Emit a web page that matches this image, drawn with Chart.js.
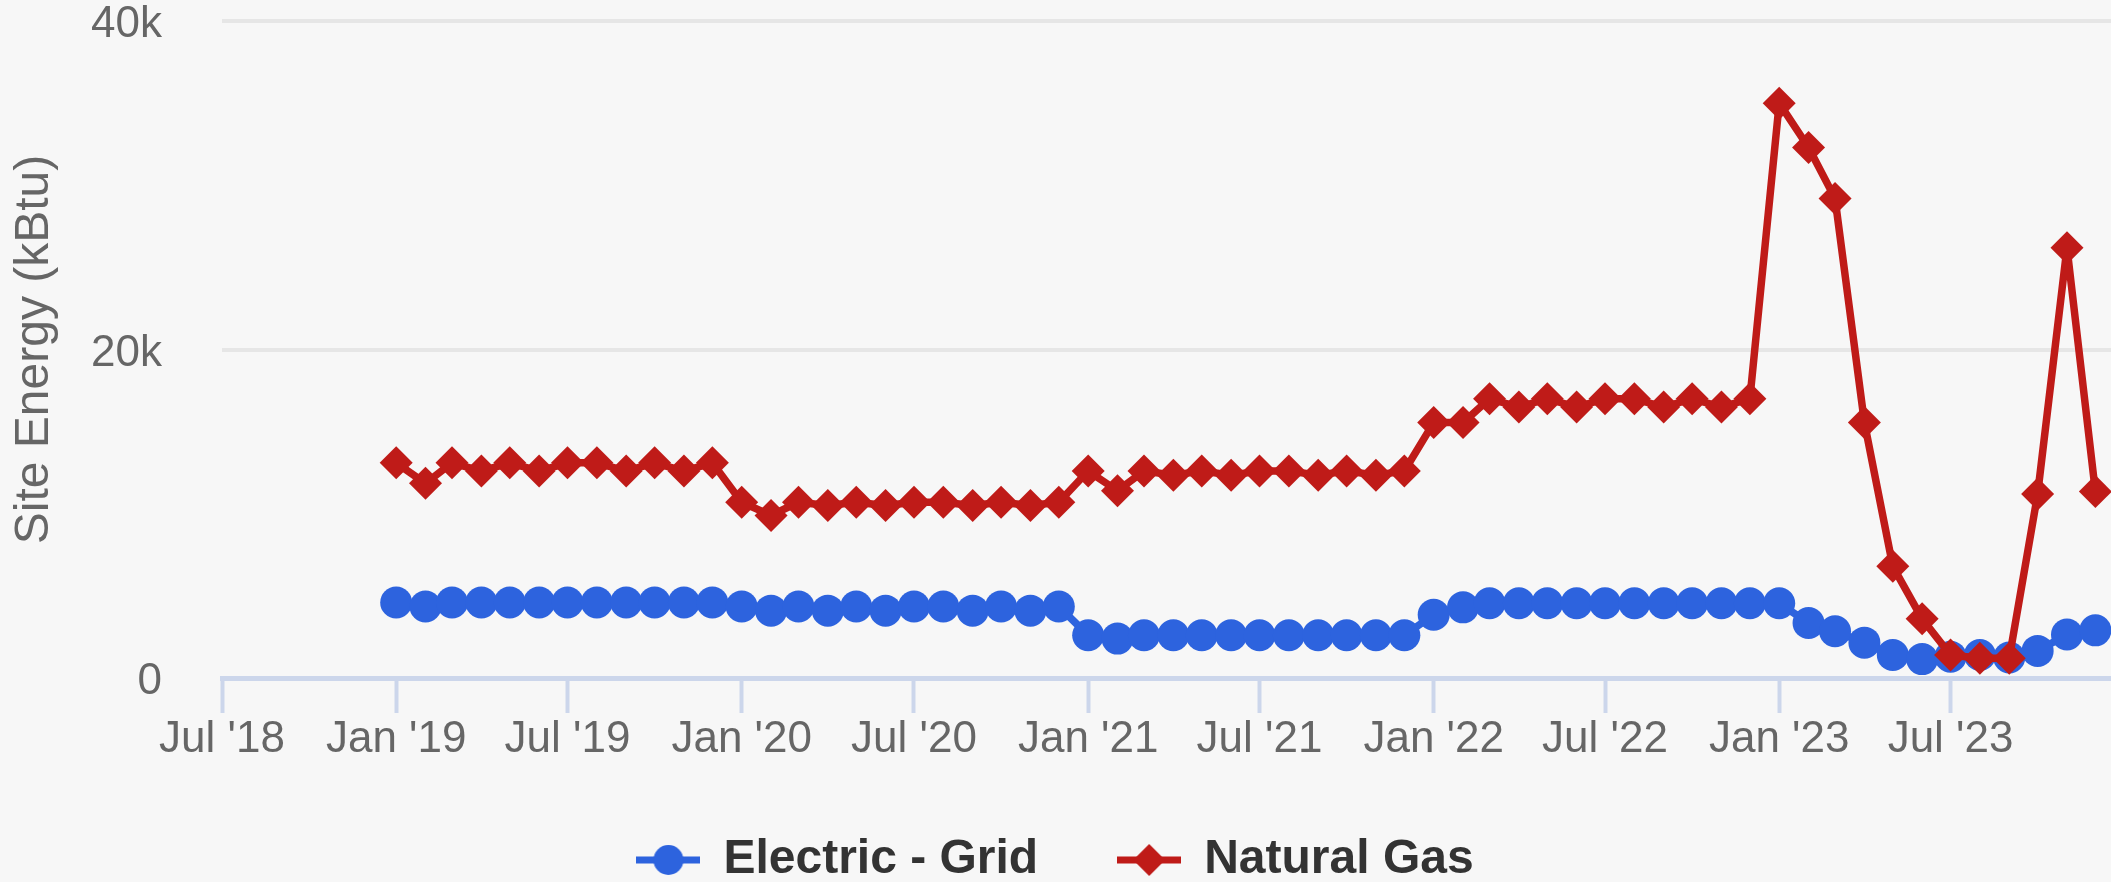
<!DOCTYPE html>
<html>
<head>
<meta charset="utf-8">
<title>Site Energy</title>
<script src="https://cdn.jsdelivr.net/npm/chart.js@4.4.1/dist/chart.umd.min.js"></script>
<style>
    html, body { margin: 0; padding: 0; background: #f7f7f7; overflow: hidden; }
    #wrap { position: relative; width: 2111px; height: 882px; }
</style>
</head>
<body>
<div id="wrap"><canvas id="energyChart"></canvas></div>
<script>
// monthly readings, Jan 2019 - Dec 2023
const months = [
    '2019-01', '2019-02', '2019-03', '2019-04', '2019-05', '2019-06', '2019-07', '2019-08', '2019-09', '2019-10', '2019-11', '2019-12',
    '2020-01', '2020-02', '2020-03', '2020-04', '2020-05', '2020-06', '2020-07', '2020-08', '2020-09', '2020-10', '2020-11', '2020-12',
    '2021-01', '2021-02', '2021-03', '2021-04', '2021-05', '2021-06', '2021-07', '2021-08', '2021-09', '2021-10', '2021-11', '2021-12',
    '2022-01', '2022-02', '2022-03', '2022-04', '2022-05', '2022-06', '2022-07', '2022-08', '2022-09', '2022-10', '2022-11', '2022-12',
    '2023-01', '2023-02', '2023-03', '2023-04', '2023-05', '2023-06', '2023-07', '2023-08', '2023-09', '2023-10', '2023-11', '2023-12'
];

const electricGrid = [
    4600, 4350, 4600, 4600, 4600, 4600, 4600, 4600, 4600, 4600, 4600, 4600,
    4350, 4100, 4350, 4100, 4350, 4100, 4350, 4350, 4100, 4350, 4100, 4350,
    2600, 2400, 2600, 2600, 2600, 2600, 2600, 2600, 2600, 2600, 2600, 2600,
    3850, 4300, 4550, 4550, 4550, 4550, 4550, 4550, 4550, 4550, 4550, 4550,
    4550, 3350, 2850, 2150, 1400, 1150, 1300, 1400, 1250, 1650, 2650, 2900
];

const naturalGas = [
    13100, 11850, 13100, 12600, 13100, 12600, 13100, 13100, 12600, 13100, 12600, 13100,
    10700, 9900, 10700, 10500, 10700, 10500, 10700, 10700, 10500, 10700, 10500, 10700,
    12600, 11400, 12600, 12350, 12600, 12350, 12600, 12600, 12350, 12600, 12350, 12600,
    15550, 15550, 17000, 16500, 17000, 16500, 17000, 17000, 16500, 17000, 16500, 17000,
    35000, 32300, 29200, 15550, 6800, 3600, 1400, 1200, 1200, 11200, 26200, 11350
];

// x axis ticks (every six months) and y axis ticks
const xTickMonths = ['2018-07', '2019-01', '2019-07', '2020-01', '2020-07', '2021-01', '2021-07', '2022-01', '2022-07', '2023-01', '2023-07'];
const yTicks = [0, 20000, 40000];

const BLUE = '#2d63de';
const RED = '#bf1b18';
const DAY = 86400000;
const MONTH_NAMES = ['Jan', 'Feb', 'Mar', 'Apr', 'May', 'Jun', 'Jul', 'Aug', 'Sep', 'Oct', 'Nov', 'Dec'];

function toTime(s) {
    return Date.UTC(+s.slice(0, 4), +s.slice(5, 7) - 1, 1);
}

function monthLabel(t) {
    const d = new Date(t);
    return MONTH_NAMES[d.getUTCMonth()] + " '" + String(d.getUTCFullYear()).slice(2);
}

// legend symbol: short line with the marker in the middle
function legendSymbol(color, shape) {
    const c = document.createElement('canvas');
    c.width = 64;
    c.height = 34;
    const g = c.getContext('2d');
    g.strokeStyle = color;
    g.fillStyle = color;
    g.lineWidth = 7;
    g.beginPath();
    g.moveTo(0, 17);
    g.lineTo(64, 17);
    g.stroke();
    g.beginPath();
    if (shape === 'circle') {
        g.arc(32, 17, 15, 0, Math.PI * 2);
    } else {
        g.moveTo(16, 17);
        g.lineTo(32, 1);
        g.lineTo(48, 17);
        g.lineTo(32, 33);
        g.closePath();
    }
    g.fill();
    return c;
}

document.addEventListener('DOMContentLoaded', function() {
    const symbols = [legendSymbol(BLUE, 'circle'), legendSymbol(RED, 'diamond')];
    const font = "'Liberation Sans', Arial, Helvetica, sans-serif";

    const ctx = document.getElementById('energyChart').getContext('2d');
    new Chart(ctx, {
        type: 'line',
        data: {
            datasets: [{
                label: 'Electric - Grid',
                data: months.map((m, i) => ({x: toTime(m), y: electricGrid[i]})),
                borderColor: BLUE,
                backgroundColor: BLUE,
                borderWidth: 7.5,
                pointStyle: 'circle',
                pointRadius: 16,
                pointHoverRadius: 16,
                pointBorderWidth: 0,
                borderJoinStyle: 'round',
                borderCapStyle: 'round',
                clip: false,
                order: 1
            }, {
                label: 'Natural Gas',
                data: months.map((m, i) => ({x: toTime(m), y: naturalGas[i]})),
                borderColor: RED,
                backgroundColor: RED,
                borderWidth: 7.5,
                pointStyle: 'rectRot',
                pointRadius: 16.5,
                pointHoverRadius: 16.5,
                pointBorderWidth: 0,
                borderJoinStyle: 'round',
                borderCapStyle: 'round',
                clip: false,
                order: 0
            }]
        },
        options: {
            responsive: true,
            maintainAspectRatio: false,
            animation: false,
            layout: {
                autoPadding: false,
                padding: {top: 21, left: 0, right: 0, bottom: -12}
            },
            plugins: {
                tooltip: {enabled: false},
                legend: {
                    position: 'bottom',
                    labels: {
                        usePointStyle: true,
                        pointStyleWidth: 62,
                        padding: 80,
                        color: '#333333',
                        font: {family: font, size: 48, weight: 'bold'},
                        generateLabels: function(chart) {
                            return chart.data.datasets.map((ds, i) => ({
                                text: ds.label,
                                fillStyle: ds.borderColor,
                                strokeStyle: ds.borderColor,
                                fontColor: '#333333',
                                lineWidth: 0,
                                pointStyle: symbols[i],
                                hidden: !chart.isDatasetVisible(i),
                                datasetIndex: i
                            }));
                        }
                    }
                }
            },
            scales: {
                x: {
                    type: 'linear',
                    min: toTime('2018-07'),
                    max: toTime('2023-12') + 16.5 * DAY,
                    afterBuildTicks: function(scale) {
                        scale.ticks = xTickMonths.map(m => ({value: toTime(m)}));
                    },
                    afterFit: function(scale) {
                        scale.height = 78;
                        scale.paddingLeft = 0;
                        scale.paddingRight = 0;
                    },
                    grid: {
                        drawOnChartArea: false,
                        drawTicks: true,
                        tickLength: 35,
                        tickWidth: 4,
                        tickColor: '#ccd6eb'
                    },
                    border: {display: true, color: '#ccd6eb', width: 5},
                    ticks: {
                        autoSkip: false,
                        maxRotation: 0,
                        padding: 5,
                        color: '#666666',
                        font: {family: font, size: 44, lineHeight: 1},
                        callback: function(value) {
                            return monthLabel(value);
                        }
                    }
                },
                y: {
                    min: 0,
                    max: 40000,
                    afterBuildTicks: function(scale) {
                        scale.ticks = yTicks.map(v => ({value: v}));
                    },
                    afterFit: function(scale) {
                        scale.width = 222;
                        scale.paddingTop = 0;
                        scale.paddingBottom = 0;
                    },
                    grid: {
                        drawTicks: false,
                        lineWidth: 4,
                        color: function(c) {
                            return c.tick && c.tick.value === 0 ? 'rgba(0,0,0,0)' : '#e6e6e6';
                        }
                    },
                    border: {display: false},
                    ticks: {
                        padding: 60,
                        labelOffset: 4,
                        color: '#666666',
                        font: {family: font, size: 44, lineHeight: 1},
                        callback: function(value) {
                            return value === 0 ? '0' : (value / 1000) + 'k';
                        }
                    },
                    title: {
                        display: true,
                        text: 'Site Energy (kBtu)',
                        color: '#666666',
                        padding: {top: 11, bottom: 0},
                        font: {family: font, size: 48, lineHeight: 1}
                    }
                }
            }
        }
    });
});
</script>
</body>
</html>
